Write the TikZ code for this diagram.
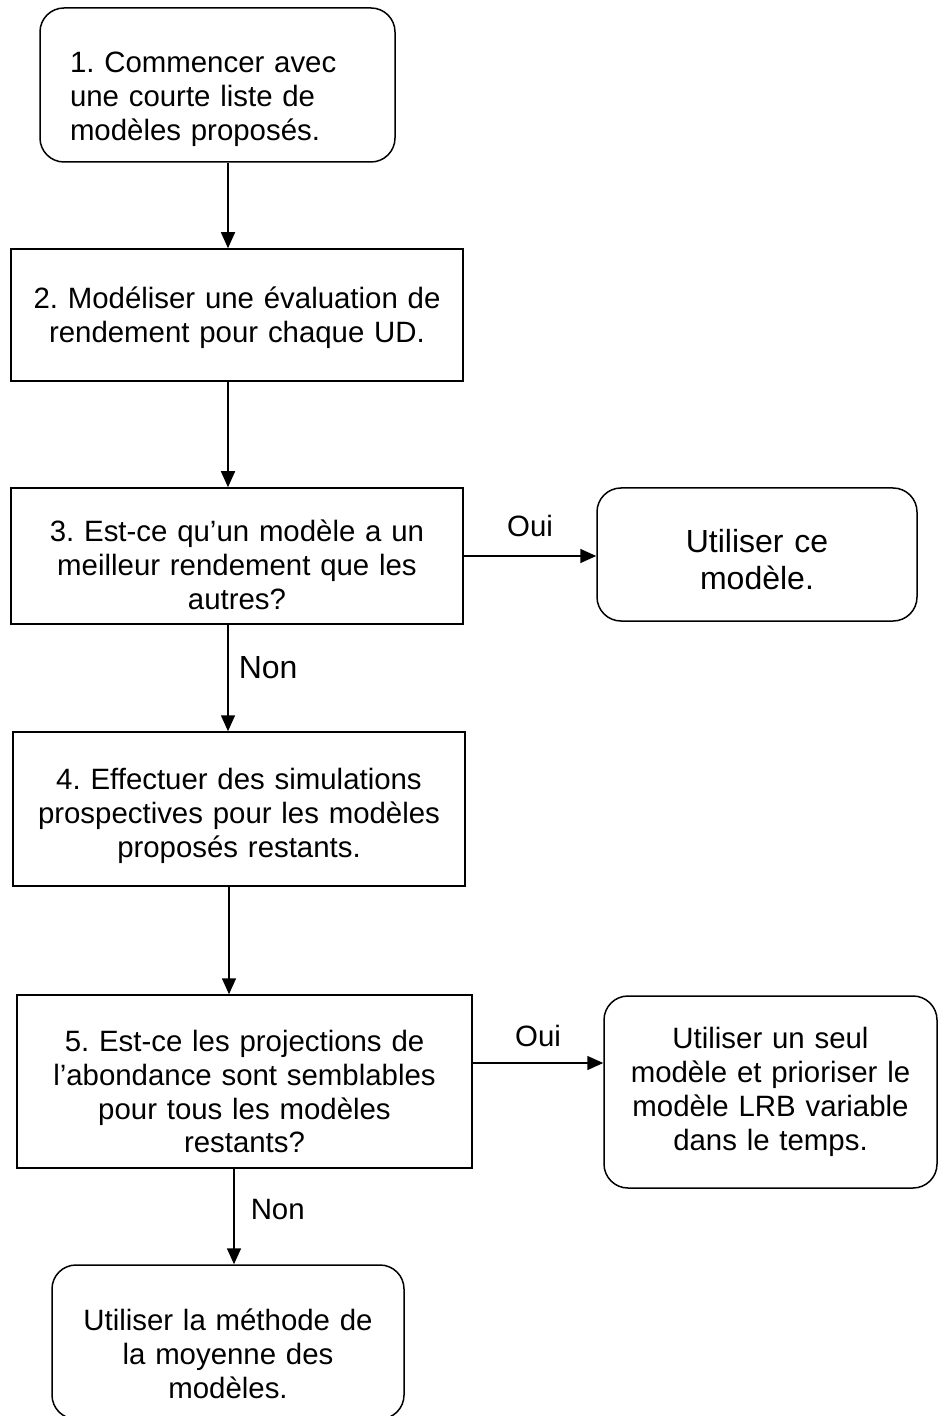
\documentclass[tikz,border=0pt]{standalone}
\usepackage{fontspec}
\setmainfont{Liberation Sans}
\usetikzlibrary{positioning, arrows.meta}
\frenchspacing
\tikzset{
  every node/.style={font=\fontsize{14.7}{16.9}\selectfont},
  arr/.style={-{Triangle[length=8pt, width=7pt]}, line width=0.75pt},
  stepbox/.style={draw, line width=0.75pt, align=center, inner sep=2pt},
  endbox/.style={stepbox, rounded corners=12pt},
  lbl/.style={inner sep=0pt},
  bigtxt/.style={font=\fontsize{16}{18.5}\selectfont},
  txtdrop/.style={execute at begin node={\rule{0pt}{#1}}},
}

\begin{document}
\begin{tikzpicture}[x=0.5pt, y=-0.5pt]
  \useasboundingbox (0,0) rectangle (937,1416);
  % --- main column ---
  \node[endbox, align=left, text width=147.5pt, inner xsep=15pt, minimum height=77pt, txtdrop=24.8pt] (start) at (217.5,85)
    {1. Commencer avec\\une courte liste de\\modèles proposés.};
  \node[stepbox, text width=222pt, minimum height=66pt, txtdrop=13.8pt] (eval) at (237,315)
    {2. Modéliser une évaluation de\\rendement pour chaque UD.};
  \node[stepbox, text width=222pt, minimum height=68pt, txtdrop=19.8pt] (best) at (237,556)
    {3. Est-ce qu’un modèle a un\\meilleur rendement que les\\autres?};
  \node[stepbox, text width=222pt, minimum height=77pt, txtdrop=17.8pt] (simul) at (239,809)
    {4. Effectuer des simulations\\prospectives pour les modèles\\proposés restants.};
  \node[stepbox, text width=223.5pt, minimum height=86.5pt, txtdrop=20.8pt] (alike) at (244.5,1081.5)
    {5. Est-ce les projections de\\l’abondance sont semblables\\pour tous les modèles\\restants?};
  \node[endbox, text width=172pt, minimum height=77pt, txtdrop=22.8pt] (avg) at (228,1342)
    {Utiliser la méthode de\\la moyenne des\\modèles.};
  % --- outcomes on the right ---
  \node[endbox, bigtxt, text width=156pt, minimum height=66.5pt, txtdrop=16.7pt] (useone) at (757,554.5)
    {Utiliser ce\\modèle.};
  \node[endbox, text width=162.5pt, minimum height=96pt] (prior) at (770.5,1092)
    {Utiliser un seul\\modèle et prioriser le\\modèle LRB variable\\dans le temps.};
  % spines for the vertical arrows
  \coordinate (spineA) at (228,0);
  \coordinate (spineB) at (229,0);
  \coordinate (spineC) at (234,0);
  % --- connectors ---
  \draw[arr] (start.south -| spineA) -- (eval.north -| spineA);
  \draw[arr] (eval.south -| spineA) -- (best.north -| spineA);
  \draw[arr] (best.south -| spineA) -- (simul.north -| spineA)
    node[lbl, bigtxt, pos=0.4, right=5pt] {Non};
  \draw[arr] (best.east) -- (best.east -| useone.west)
    node[lbl, midway, above=9pt] {Oui};
  \draw[arr] (simul.south -| spineB) -- (alike.north -| spineB);
  \draw[arr] ([yshift=9.25pt]alike.east) -- ([yshift=9.25pt]alike.east -| prior.west)
    node[lbl, midway, above=7.5pt] {Oui};
  \draw[arr] (alike.south -| spineC) -- (avg.north -| spineC)
    node[lbl, pos=0.43, right=8pt] {Non};
\end{tikzpicture}
\end{document}
